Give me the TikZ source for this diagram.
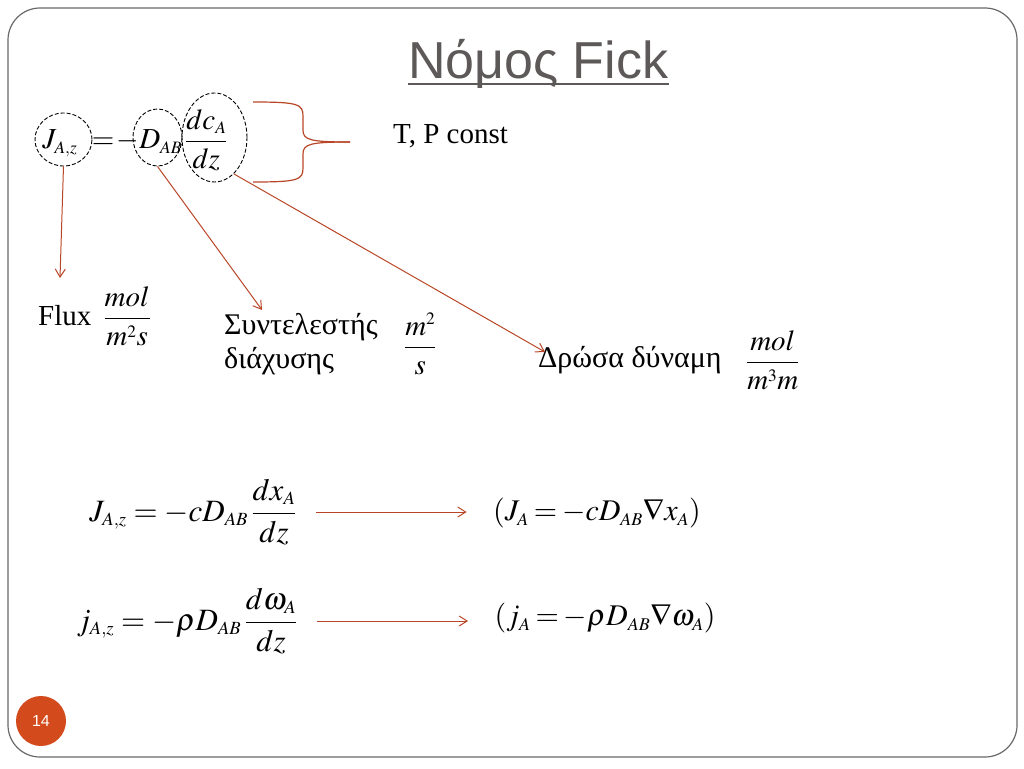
\documentclass[tikz,border=0pt]{standalone}
\usepackage{amsmath}
\usepackage{mathptmx}
\usepackage{fontspec}
\setmainfont{Liberation Serif}
\newfontfamily\titlefont{Liberation Sans}
\renewcommand{\defaultscriptratio}{.6}
\renewcommand{\defaultscriptscriptratio}{.48}
\usetikzlibrary{positioning,shapes.geometric,arrows.meta}
\definecolor{arrowred}{RGB}{184,70,38}
\definecolor{titlegray}{RGB}{94,89,89}
\definecolor{framegray}{RGB}{105,105,105}
\definecolor{pagered}{RGB}{211,74,28}
\tikzset{
  ring/.style={draw, dash pattern=on 4pt off 2pt, ellipse, inner sep=0pt, line width=0.9pt},
  pointer/.style={draw=arrowred, line width=1pt, -{Straight Barb[length=8pt,width=10pt]}},
  bigmath/.style={font=\fontsize{31}{38}\selectfont},
  vecmath/.style={font=\fontsize{30}{36}\selectfont},
  midtext/.style={font=\fontsize{29}{34}\selectfont},
  greek/.style={font=\fontsize{30}{34}\selectfont},
}

\begin{document}
\begin{tikzpicture}[x=1pt,y=-1pt]
\useasboundingbox (0,0) rectangle (1024,768);
\draw[framegray, line width=1.2pt, rounded corners=32pt] (8,8) rectangle (1017,757);

% title
\node[anchor=base west, inner sep=0pt, text=titlegray, font=\titlefont\fontsize{52}{60}\selectfont] (title) at (408,78) {Νόμος Fick};
\draw[titlegray, line width=2.2pt] ([yshift=-6pt]title.base west) -- ([yshift=-6pt]title.base east);

% Fick's law and its three parts
\node[midtext] (fick) at (135,140) {$\thickmuskip=0mu J_{A,z}\mkern9mu = \mkern1.5mu -D_{AB}\mkern2mu\dfrac{dc_A}{dz}$};
\node[ring, minimum width=57pt, minimum height=53pt] (jring) at (63.5,139.5) {};
\node[ring, minimum width=49pt, minimum height=57pt] (dring) at (157.5,137.5) {};
\node[ring, minimum width=65pt, minimum height=89pt] (gring) at (214.5,137.5) {};

% brace
\draw[arrowred, line width=1.2pt] (253,102) .. controls (298,102) and (303,104) .. (303,116) -- (303,130) .. controls (303,140) and (310,142) .. (350,142);
\draw[arrowred, line width=1.2pt] (253,182) .. controls (298,182) and (303,180) .. (303,168) -- (303,154) .. controls (303,144) and (310,142) .. (350,142);
\node[anchor=west, inner sep=0pt, midtext] (tpconst) at (393,136) {T, P const};

% units
\node[anchor=west, inner sep=0pt, midtext] (flux) at (38,316) {Flux\hspace{12pt}$\dfrac{mol}{m^2s}$};
\node[anchor=west, align=left, inner sep=0pt, greek] (coef) at (224,344) {Συντελεστής\\διάχυσης};
\node[right=26pt of coef, inner sep=0pt, midtext] (coefunit) {$\dfrac{m^2}{s}$};
\node[anchor=west, inner sep=0pt, greek] (drive) at (538,360) {Δρώσα δύναμη};
\node[right=24pt of drive, inner sep=0pt, midtext] (driveunit) {$\dfrac{mol}{m^3m}$};

\coordinate (fluxtip) at (60,278);
\coordinate (coeftip) at (262,310);
\coordinate (drivetip) at (545,352);
\draw[pointer] (jring.south) -- (fluxtip);
\draw[pointer] (dring.south) -- (coeftip);
\draw[pointer] (gring.-62) -- (drivetip);

% molar and mass forms
\node[bigmath] (molar) at (193,512) {$J_{A,z} = -cD_{AB}\,\dfrac{dx_A}{dz}$};
\node[vecmath] (molarvec) at (597,513) {$\thickmuskip=3mu (J_A = -cD_{AB}\nabla x_A)$};
\node[bigmath] (mass) at (187,621) {$j_{A,z} = -\rho D_{AB}\,\dfrac{d\omega_A}{dz}$};
\node[vecmath] (massvec) at (605,618) {$\thickmuskip=3mu (j_A = -\rho D_{AB}\nabla\omega_A)$};
\draw[pointer, shorten <=16pt, shorten >=23pt] (molar.east) -- (molar.east -| molarvec.west);
\draw[pointer, shorten <=16pt, shorten >=23pt] (mass.east) -- (mass.east -| massvec.west);

% page number
\node[circle, fill=pagered, minimum size=50pt, inner sep=0pt, text=white, font=\titlefont\fontsize{16}{18}\selectfont] (pagenum) at (41,721) {14};
\end{tikzpicture}
\end{document}
